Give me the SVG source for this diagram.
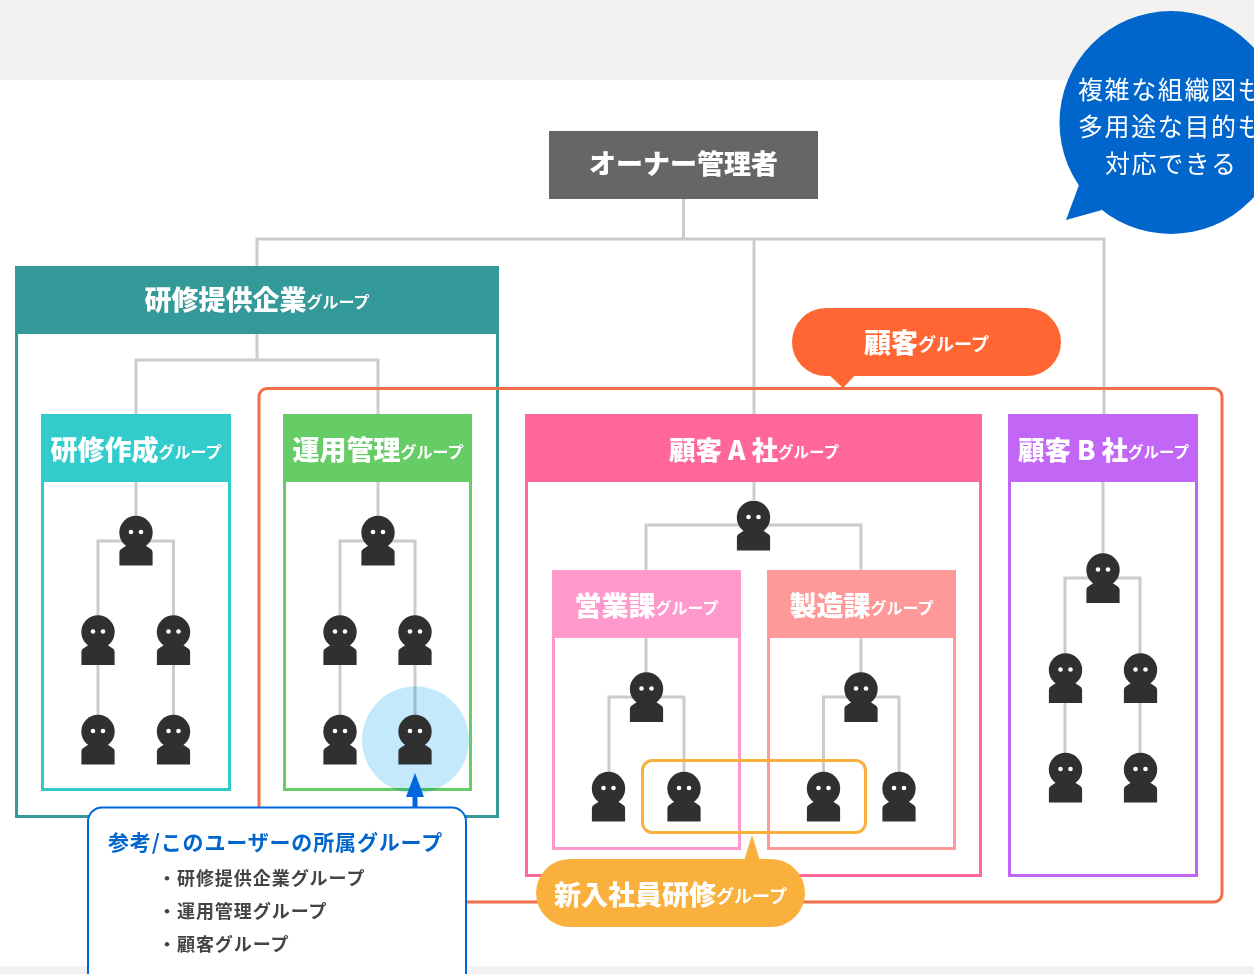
<svg xmlns="http://www.w3.org/2000/svg" xmlns:xlink="http://www.w3.org/1999/xlink" width="1254" height="974" viewBox="0 0 1254 974">
<style>
text{font-family:"Noto Sans CJK JP","Noto Sans CJK SC",sans-serif;font-weight:700}
.lbl{fill:#fff;font-size:27px;text-anchor:middle;font-weight:900}
.lbl tspan{font-size:16px;font-weight:700}
.pill tspan{font-size:18px}
.ab{font-size:26.5px}
.ab tspan{font-size:15.5px}
.box{fill:none;stroke-width:3}
.conn{fill:none;stroke:#cccccc;stroke-width:3}
.item{fill:#444;font-size:18px;letter-spacing:.95px}
.say{fill:#fff;font-size:25px;font-weight:400;letter-spacing:1.6px}
</style>
<defs>
<g id="person">
<path fill="#303030" d="M-16.6 33V19.500Q-16.600 17-14 16L-8 12H8L14 16Q16.600 17 16.600 19.500V33Z"/>
<circle fill="#303030" cx="0" cy="0" r="16.7"/>
<circle fill="#fff" cx="-5" cy="-.5" r="2.3"/>
<circle fill="#fff" cx="5" cy="-.5" r="2.3"/>
</g>
</defs>
<rect width="1254" height="974" fill="#fff"/>
<rect width="1254" height="80" fill="#f3f2f0"/>
<rect y="966" width="1254" height="8" fill="#f3f2f0"/>

<g id="group-provider"><rect x="16.500" y="267.500" width="481" height="549" class="box" stroke="#339999"/><rect x="15" y="266" width="484" height="68" fill="#339999"/><text class="lbl" x="257" y="310">研修提供企業<tspan dy="-2">グループ</tspan></text></g>
<g id="connectors">
<path class="conn" d="M683.500 199V239M257 266V239H1104V414M754 239V414M257 334V360M136 414V360H378V414"/>
<path class="conn" d="M136 482V516M98 616V541H173.500V616M98 650V716M173.500 650V716"/>
<path class="conn" d="M378 482V516M340 616V541H415V616M340 650V716M415 650V716"/>
<path class="conn" d="M754 482V500M646 570V525H861V570M646 638V675M609 775V697H684V775M861 638V675M823.500 775V697H899V775"/>
<path class="conn" d="M1103 482V555M1065 655V578H1140V655M1065 690V755M1140 690V755"/>
</g>
<g id="group-customer"><rect x="259" y="388.500" width="963" height="513.500" rx="8" fill="none" stroke="#f0704a" stroke-width="3"/><path d="M826 372H858L843 388Z" fill="#ff6633"/><rect x="792" y="308" width="269" height="68" rx="34" fill="#ff6633"/><text class="lbl pill" x="926.500" y="353">顧客<tspan dy="-2">グループ</tspan></text></g>
<g id="group-create"><rect x="42.500" y="415.500" width="187" height="374" class="box" stroke="#33cccc"/><rect x="41" y="414" width="190" height="68" fill="#33cccc"/><text class="lbl" x="136" y="460">研修作成<tspan dy="-2">グループ</tspan></text></g>
<g id="group-ops"><rect x="284.500" y="415.500" width="186" height="374" class="box" stroke="#66cc66"/><rect x="283" y="414" width="189" height="68" fill="#66cc66"/><text class="lbl" x="378" y="460">運用管理<tspan dy="-2">グループ</tspan></text></g>
<circle id="highlight" cx="415.500" cy="740" r="53.500" fill="#c4e9fb" style="mix-blend-mode:multiply"/>
<g id="group-a"><rect x="526.500" y="415.500" width="454" height="460" class="box" stroke="#ff6699"/><rect x="525" y="414" width="457" height="68" fill="#ff6699"/><text class="lbl ab" x="754" y="460">顧客 A 社<tspan dy="-2">グループ</tspan></text></g>
<g id="group-b"><rect x="1009.500" y="415.500" width="187" height="460" class="box" stroke="#c266f5"/><rect x="1008" y="414" width="190" height="68" fill="#c266f5"/><text class="lbl ab" x="1103.500" y="460">顧客 B 社<tspan dy="-2">グループ</tspan></text></g>
<g id="group-sales"><rect x="553.500" y="571.500" width="186" height="277" class="box" stroke="#ff99cc"/><rect x="552" y="570" width="189" height="68" fill="#ff99cc"/><text class="lbl" x="646.500" y="616">営業課<tspan dy="-2">グループ</tspan></text></g>
<g id="group-mfg"><rect x="768.500" y="571.500" width="186" height="277" class="box" stroke="#ff9999"/><rect x="767" y="570" width="189" height="68" fill="#ff9999"/><text class="lbl" x="861.500" y="616">製造課<tspan dy="-2">グループ</tspan></text></g>
<g id="people">
<use xlink:href="#person" href="#person" x="136" y="532.500"/><use xlink:href="#person" href="#person" x="98" y="632"/><use xlink:href="#person" href="#person" x="173.500" y="632"/><use xlink:href="#person" href="#person" x="98" y="731.500"/><use xlink:href="#person" href="#person" x="173.500" y="731.500"/>
<use xlink:href="#person" href="#person" x="378" y="532.500"/><use xlink:href="#person" href="#person" x="340" y="632"/><use xlink:href="#person" href="#person" x="415" y="632"/><use xlink:href="#person" href="#person" x="340" y="731.500"/><use xlink:href="#person" href="#person" x="415" y="731.500"/>
<use xlink:href="#person" href="#person" x="753.500" y="517.500"/>
<use xlink:href="#person" href="#person" x="646.500" y="689"/><use xlink:href="#person" href="#person" x="608.500" y="788.500"/><use xlink:href="#person" href="#person" x="684" y="788.500"/>
<use xlink:href="#person" href="#person" x="861" y="689"/><use xlink:href="#person" href="#person" x="823.500" y="788.500"/><use xlink:href="#person" href="#person" x="899" y="788.500"/>
<use xlink:href="#person" href="#person" x="1103" y="570"/><use xlink:href="#person" href="#person" x="1065.500" y="670"/><use xlink:href="#person" href="#person" x="1140.500" y="670"/><use xlink:href="#person" href="#person" x="1065.500" y="769.500"/><use xlink:href="#person" href="#person" x="1140.500" y="769.500"/>
</g>
<g id="group-newhire"><rect x="642.500" y="760.500" width="223" height="72" rx="10" fill="none" stroke="#f9b03c" stroke-width="3"/><path d="M743 864L752 835L761 864Z" fill="#f9b03c"/><rect x="536" y="859" width="269" height="68" rx="34" fill="#f9b03c"/><text class="lbl pill" x="670.500" y="905">新入社員研修<tspan dy="-2">グループ</tspan></text></g>
<g id="owner"><rect x="549" y="131" width="269" height="68" fill="#666"/><text class="lbl" x="683.500" y="174">オーナー管理者</text></g>
<g id="callout"><path d="M1079 185L1066 220L1102 210Z" fill="#0066cc"/><circle cx="1171" cy="122.500" r="111.500" fill="#0066cc"/><text class="say" x="1078" y="99">複雑な組織図も</text><text class="say" x="1078" y="136">多用途な目的も</text><text class="say" x="1105" y="173">対応できる</text></g>
<g id="note"><path d="M415 773L424 797H417.500V808H412.500V797H406Z" fill="#0066dd"/><rect x="88" y="807.500" width="378" height="180" rx="14" fill="#fff" stroke="#0066dd" stroke-width="2"/><text x="108" y="850" fill="#0066cc" font-size="21px" letter-spacing=".85">参考/このユーザーの所属グループ</text><text class="item" x="158" y="885">・研修提供企業グループ</text><text class="item" x="158" y="918">・運用管理グループ</text><text class="item" x="158" y="951">・顧客グループ</text></g>
</svg>
